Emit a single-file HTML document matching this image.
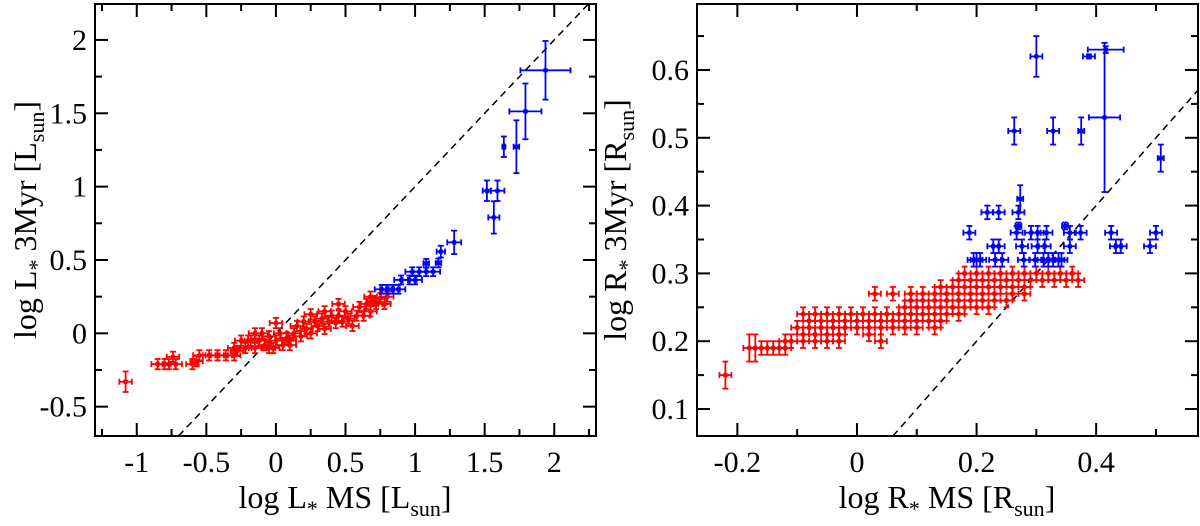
<!DOCTYPE html>
<html><head><meta charset="utf-8"><style>
html,body{margin:0;padding:0;background:#fff;overflow:hidden;width:1200px;height:526px;}
svg{display:block;font-family:"Liberation Serif",serif;}
text{font-family:"Liberation Serif",serif;}
</style></head><body>
<svg id="chart" width="1200" height="526" viewBox="0 0 1200 526" xmlns="http://www.w3.org/2000/svg" font-family="Liberation Serif, serif" overflow="hidden">
<g id="left"></g>
<g id="right"></g>
</svg>
<script>
// ---- Left panel data (log L) ----
const leftRedX = [-1.08,-0.85,-0.8,-0.77,-0.72,-0.74,-0.6,-0.57,-0.55,-0.48,-0.42,-0.36,-0.3,-0.28,-0.3,-0.25,-0.22,-0.18,-0.15,-0.12,-0.1,-0.08,-0.05,-0.02,0,0.03,0.05,0.08,0.1,0.13,0.15,0.18,0.2,0.22,0.25,0.28,0.3,0.33,0.35,0.38,0.4,0.43,0.45,0.48,0.5,0.52,0.55,0.58,0.6,0.63,0.65,0.68,0.7,0.72,0.75,0.78,0.8,0.68,0.45,0.35,0.1,-0.05,0.0,-0.15,-0.2,0.25];
const leftRedY = [-0.33,-0.21,-0.21,-0.21,-0.21,-0.16,-0.21,-0.19,-0.15,-0.15,-0.15,-0.15,-0.15,-0.12,-0.1,-0.05,-0.1,-0.05,-0.1,-0.05,0,-0.08,-0.02,-0.1,-0.05,0,-0.08,-0.03,-0.08,0,0.05,-0.02,0.08,0.03,0,0.08,0.05,0.1,0.03,0.08,0.12,0.07,0.12,0.08,0.15,0.1,0.05,0.12,0.18,0.12,0.2,0.15,0.22,0.2,0.24,0.2,0.25,0.25,0.2,0.15,-0.05,-0.1,0.07,0,-0.05,0.13];
const leftBlueX = [1.937,1.793,1.728,1.638,1.592,1.516,1.566,1.281,1.185,1.168,1.08,0.98,1.03,1.08,1.13,0.9,0.96,1.0,0.76,0.8,0.84,0.88];
const leftBlueY = [1.793,1.513,1.272,1.272,0.972,0.972,0.79,0.62,0.557,0.48,0.477,0.42,0.42,0.42,0.42,0.364,0.364,0.364,0.30,0.30,0.30,0.30];
const leftBlueXErr = [0.18,0.115,0.02,0.01,0.05,0.03,0.04,0.05,0.03,0.02,0.02,0.05,0.05,0.05,0.05,0.05,0.05,0.05,0.05,0.05,0.05,0.05];
const leftBlueYErr = [0.2,0.19,0.18,0.07,0.07,0.07,0.11,0.08,0.04,0.03,0.03,0.03,0.03,0.03,0.03,0.03,0.03,0.03,0.03,0.03,0.03,0.03];
const leftXTicks = [-1,-0.5,0,0.5,1,1.5,2];
const leftYTicks = [-0.5,0,0.5,1,1.5,2];

// ---- Right panel data (log R) ----
const rightRedRowsY = [0.30,0.29,0.28,0.27,0.26,0.25,0.24,0.23,0.22,0.21,0.20,0.19,0.15];
const rightRedRowsX = [
 [0.18,0.2,0.22,0.24,0.26,0.28,0.3,0.32,0.34,0.36],
 [0.17,0.19,0.21,0.23,0.25,0.27,0.29,0.31,0.33,0.35,0.37],
 [0.14,0.16,0.18,0.2,0.22,0.24,0.26,0.28],
 [0.03,0.06,0.09,0.11,0.13,0.15,0.17,0.19,0.21,0.23,0.26,0.28],
 [0.09,0.11,0.13,0.15,0.17,0.19,0.21,0.23,0.25],
 [0.08,0.1,0.12,0.14,0.16,0.18,0.2,0.22],
 [-0.09,-0.07,-0.05,-0.03,-0.01,0.01,0.03,0.05,0.07,0.09,0.11,0.13,0.15,0.17],
 [-0.08,-0.06,-0.04,-0.02,0,0.02,0.04,0.06,0.08,0.1,0.12,0.14],
 [-0.1,-0.08,-0.06,-0.04,-0.02,0,0.02,0.04,0.06,0.08,0.1,0.13],
 [-0.09,-0.07,-0.05,-0.03,0.02],
 [-0.12,-0.11,-0.09,-0.07,-0.05,-0.03,0.04],
 [-0.18,-0.17,-0.16,-0.15,-0.14,-0.13,-0.12],
 [-0.22]
];
const rightBlueX = [0.3,0.416,0.388,0.414,0.263,0.328,0.375,0.508,0.273,0.27,0.218,0.237,0.27,0.348,
 0.188,0.267,0.291,0.302,0.317,0.356,0.374,0.425,0.5,
 0.228,0.237,0.276,0.302,0.314,0.356,0.433,0.441,0.49,
 0.195,0.2,0.206,0.231,0.243,0.279,0.298,0.312,0.32,0.328,0.337,0.342];
const rightBlueY = [0.62,0.63,0.62,0.53,0.51,0.51,0.51,0.47,0.41,0.39,0.39,0.39,0.37,0.37,
 0.36,0.36,0.36,0.36,0.36,0.36,0.36,0.36,0.36,
 0.34,0.34,0.34,0.34,0.34,0.34,0.34,0.34,0.34,
 0.32,0.32,0.32,0.32,0.32,0.32,0.32,0.32,0.32,0.32,0.32,0.32];
const rightBlueXErr = [0.01,0.03,0.01,0.026,0.01,0.01,0.005,0.005,0.005,0.01,0.01,0.01,0.005,0.005,
 0.01,0.01,0.01,0.01,0.01,0.01,0.01,0.01,0.01,
 0.01,0.01,0.01,0.01,0.01,0.01,0.01,0.01,0.01,
 0.01,0.01,0.01,0.01,0.01,0.01,0.01,0.01,0.01,0.01,0.01,0.01];
const rightBlueYErr = [0.03,0.005,0.003,0.11,0.02,0.02,0.02,0.02,0.02,0.01,0.01,0.01,0.005,0.005,
 0.01,0.01,0.01,0.01,0.01,0.01,0.01,0.01,0.01,
 0.01,0.01,0.01,0.01,0.01,0.01,0.01,0.01,0.01,
 0.01,0.01,0.01,0.01,0.01,0.01,0.01,0.01,0.01,0.01,0.01,0.01];
const rightXTicks = [-0.2,0,0.2,0.4];
const rightYTicks = [0.1,0.2,0.3,0.4,0.5,0.6];

const NS = "http://www.w3.org/2000/svg";
const FONT = "Liberation Serif, serif";
function mk(parent, tag, attrs){
  const e = document.createElementNS(NS, tag);
  for (const k in attrs) e.setAttribute(k, attrs[k]);
  parent.appendChild(e);
  return e;
}

function drawPanel(g, box, xd, yd) {
  const sx = v => box.x0 + (v - xd[0]) / (xd[1] - xd[0]) * (box.x1 - box.x0);
  const sy = v => box.y1 - (v - yd[0]) / (yd[1] - yd[0]) * (box.y1 - box.y0);
  const lo = Math.max(xd[0], yd[0]), hi = Math.min(xd[1], yd[1]);
  const dl = mk(g, "line", {x1: sx(lo), y1: sy(lo), x2: sx(hi), y2: sy(hi), stroke: "#000", "stroke-width": 1.5, "stroke-dasharray": "7,5"});
  
  
  return {sx, sy};
}

function axes(g, box, sx, sy, xd, yd, xMaj, xMin, yMaj, yMin, xt, yt, fmt) {
  const frame = mk(g, "rect", {x: box.x0, y: box.y0, width: box.x1 - box.x0, height: box.y1 - box.y0, fill: "none", stroke: "#000", "stroke-width": 2});
  
  
  const tg = mk(g, "g", {stroke: "#000", "stroke-width": 2});
  
  
  for (let v = xd[0]; v <= xd[1] + 1e-9; v += xMin) {
    const r = Math.round(v / xMin) * xMin;
    const major = Math.abs(r / xMaj - Math.round(r / xMaj)) < 1e-6;
    const L = major ? 13 : 7, X = sx(r);
    if (X < box.x0 + 1 || X > box.x1 - 1) continue;
    mk(tg, "line", {x1: X, y1: box.y1, x2: X, y2: box.y1 - L});
    mk(tg, "line", {x1: X, y1: box.y0, x2: X, y2: box.y0 + L});
  }
  for (let v = yd[0]; v <= yd[1] + 1e-9; v += yMin) {
    const r = Math.round(v / yMin) * yMin;
    const major = Math.abs(r / yMaj - Math.round(r / yMaj)) < 1e-6;
    const L = major ? 13 : 7, Y = sy(r);
    if (Y < box.y0 + 1 || Y > box.y1 - 1) continue;
    mk(tg, "line", {x1: box.x0, y1: Y, x2: box.x0 + L, y2: Y});
    mk(tg, "line", {x1: box.x1, y1: Y, x2: box.x1 - L, y2: Y});
  }
  xt.forEach(v => {
    const t = mk(g, "text", {x: sx(v), y: 472, "text-anchor": "middle", "font-size": 30, "font-family": FONT});
    t.textContent = fmt(v);
    
    
  });
  yt.forEach(v => {
    const t = mk(g, "text", {x: box.x0 - 8, y: sy(v) + 10, "text-anchor": "end", "font-size": 30, "font-family": FONT});
    t.textContent = fmt(v);
    
    
  });
}

function point(g, X, Y, ex, ey, color) {
  const pg = mk(g, "g", {stroke: color, "stroke-width": 1.8, fill: color});
  
  
  if (ex > 0.5) {
    mk(pg, "line", {x1: X - ex, y1: Y, x2: X + ex, y2: Y});
    mk(pg, "line", {x1: X - ex, y1: Y - 3, x2: X - ex, y2: Y + 3});
    mk(pg, "line", {x1: X + ex, y1: Y - 3, x2: X + ex, y2: Y + 3});
  }
  if (ey > 0.5) {
    mk(pg, "line", {x1: X, y1: Y - ey, x2: X, y2: Y + ey});
    mk(pg, "line", {x1: X - 3, y1: Y - ey, x2: X + 3, y2: Y - ey});
    mk(pg, "line", {x1: X - 3, y1: Y + ey, x2: X + 3, y2: Y + ey});
  }
  mk(pg, "circle", {cx: X, cy: Y, r: 2.6, stroke: "none"});
}

const fmt = v => (Math.round(v * 100) / 100).toString();

function label(g, x, y, rot, main, rest) {
  const attrs = {x: 0, y: 0, "text-anchor": "middle", "font-size": 32, "font-family": FONT,
    transform: "translate(" + x + "," + y + ")" + (rot ? " rotate(-90)" : "")};
  const t = mk(g, "text", attrs);
  t.innerHTML = main + '<tspan dy="8" font-size="22">*</tspan><tspan dy="-8">' + rest + '</tspan><tspan dy="8" font-size="22">sun</tspan><tspan dy="-8">]</tspan>';
  return t;
}

// LEFT
(function(){
  const g = document.getElementById("left");
  const box = {x0: 95, x1: 596, y0: 4, y1: 436};
  const xd = [-1.3, 2.3], yd = [-0.7, 2.245];
  const {sx, sy} = drawPanel(g, box, xd, yd);
  const dg = mk(g, "g", {});
  
  
  leftRedX.forEach((x, i) => {
    const ey = i === 0 ? 0.07 : 0.035;
    point(dg, sx(x), sy(leftRedY[i]), 0.045 * 139.2, ey * 146.7, "#ff0000");
  });
  leftBlueX.forEach((x, i) => {
    point(dg, sx(x), sy(leftBlueY[i]), leftBlueXErr[i] * 139.2, leftBlueYErr[i] * 146.7, "#0000ff");
  });
  axes(g, box, sx, sy, xd, yd, 0.5, 0.25, 0.5, 0.25, leftXTicks, leftYTicks, fmt);
  const xl = label(g, 345, 508, false, 'log L', ' MS [L');
  
  
  const yl = label(g, 36, 220, true, 'log L', ' 3Myr [L');
  
  
})();

// RIGHT
(function(){
  const g = document.getElementById("right");
  const box = {x0: 697, x1: 1198, y0: 4, y1: 436};
  const xd = [-0.2675, 0.5703], yd = [0.0602, 0.6973];
  const {sx, sy} = drawPanel(g, box, xd, yd);
  const kx = (box.x1 - box.x0) / (xd[1] - xd[0]), ky = (box.y1 - box.y0) / (yd[1] - yd[0]);
  const dg = mk(g, "g", {});
  
  
  rightRedRowsY.forEach((y, r) => {
    rightRedRowsX[r].forEach(x => {
      const ey = (x <= -0.165) ? 0.02 : 0.01;
      point(dg, sx(x), sy(y), 0.01 * kx, ey * ky, "#ff0000");
    });
  });
  rightBlueX.forEach((x, i) => {
    point(dg, sx(x), sy(rightBlueY[i]), rightBlueXErr[i] * kx, rightBlueYErr[i] * ky, "#0000ff");
  });
  axes(g, box, sx, sy, xd, yd, 0.2, 0.1, 0.1, 0.05, rightXTicks, rightYTicks, fmt);
  const xl = label(g, 947, 508, false, 'log R', ' MS [R');
  
  
  const yl = label(g, 626, 220, true, 'log R', ' 3Myr [R');
  
  
})();
</script>
</body></html>
